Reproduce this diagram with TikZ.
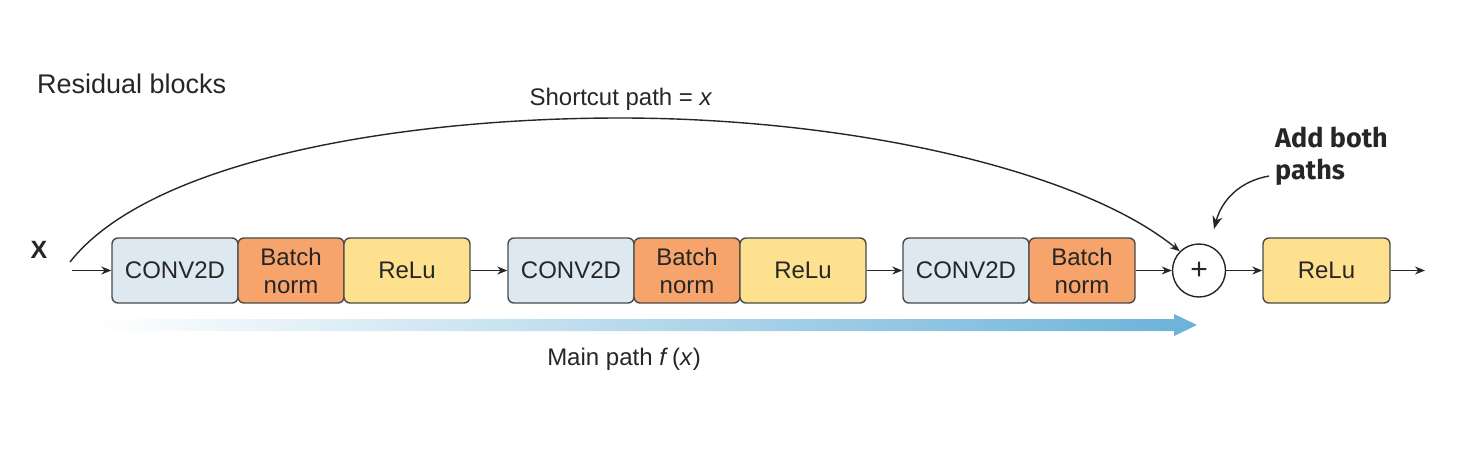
\documentclass[tikz,border=0pt]{standalone}
\usepackage{fontspec}
\setmainfont{Liberation Sans}
\newfontfamily\addfont{Fira Sans}
\usetikzlibrary{arrows.meta,shapes.geometric}
\definecolor{convc}{HTML}{DEE8F1}
\definecolor{bnc}{HTML}{F6A46C}
\definecolor{reluc}{HTML}{FEE18F}
\definecolor{edgec}{HTML}{4A4A4A}
\definecolor{txtc}{HTML}{262626}
\definecolor{gradR}{HTML}{6CB2D8}
\tikzset{
  blk/.style={draw=edgec, line width=1.4pt, rounded corners=6pt, minimum height=65pt,
    text=txtc, align=center, inner sep=0pt, font=\fontsize{24}{28}\selectfont},
  conv/.style={blk, fill=convc, minimum width=126pt},
  bn/.style={blk, fill=bnc, minimum width=106pt},
  relu/.style={blk, fill=reluc, minimum width=126pt},
  conn/.style={draw=txtc, line width=1.4pt, -{Stealth[length=10pt,width=8pt]}},
  lbl/.style={text=txtc, inner sep=0pt, font=\fontsize{24}{28}\selectfont}
}
\begin{document}
\begin{tikzpicture}[x=1pt,y=-1pt]
\useasboundingbox (0,0) rectangle (1460,453);
% main path gradient arrow
\shade[left color=white, right color=gradR, shading=axis]
  (92,319) -- (1174,319) -- (1174,314) -- (1197,325) -- (1174,336) -- (1174,331) -- (92,331) -- cycle;
% blocks
\node[conv] (c1) at (175,270.5) {CONV2D};
\node[bn]   (b1) at (291,270.5) {Batch\\norm};
\node[relu] (r1) at (407,270.5) {ReLu};
\node[conv] (c2) at (571,270.5) {CONV2D};
\node[bn]   (b2) at (687,270.5) {Batch\\norm};
\node[relu] (r2) at (803,270.5) {ReLu};
\node[conv] (c3) at (966,270.5) {CONV2D};
\node[bn]   (b3) at (1082,270.5) {Batch\\norm};
\node[circle, draw=txtc, line width=1.4pt, minimum size=53pt, inner sep=0pt, fill=white,
  font=\fontsize{30}{30}\selectfont, text=txtc] (plus) at (1199,270.5) {+};
\node[relu, minimum width=127pt] (r4) at (1326.5,270.5) {ReLu};
% labels
\node[lbl, anchor=west, font=\fontsize{27}{30}\selectfont] (title) at (37,84) {Residual blocks};
\node[lbl, font=\fontsize{25}{30}\selectfont\bfseries] (xin) at (39,250) {X};
\node[lbl] (sc) at (621,99) {Shortcut path = \textit{x}};
\node[lbl] (mp) at (624,359) {Main path \textit{f}\,(\textit{x})};
\node[anchor=west, align=left, text=txtc, inner sep=0pt,
  font=\addfont\bfseries\fontsize{27}{32}\selectfont] (add) at (1275,156) {Add both\\paths};
% coordinates
\coordinate (xs) at (72,270.5);
\coordinate (xsc) at (70,262);
\coordinate (mid) at (620,118);
\coordinate (outend) at (1425,270.5);
\coordinate (annst) at (1269,176);
% connectors
\draw[conn] (xs) -- (c1.west);
\draw[conn] (r1.east) -- (c2.west);
\draw[conn] (r2.east) -- (c3.west);
\draw[conn] (b3.east) -- (plus.west);
\draw[conn] (plus.east) -- (r4.west);
\draw[conn] (r4.east) -- (outend);
\draw[conn] (xsc) .. controls (150,160) and (400,118) .. (mid)
  .. controls (850,118) and (1080,170) .. (plus.135);
\draw[conn, -{Stealth[length=13pt,width=10pt]}] (annst) to[out=190,in=75] (1214,229);
\end{tikzpicture}
\end{document}
